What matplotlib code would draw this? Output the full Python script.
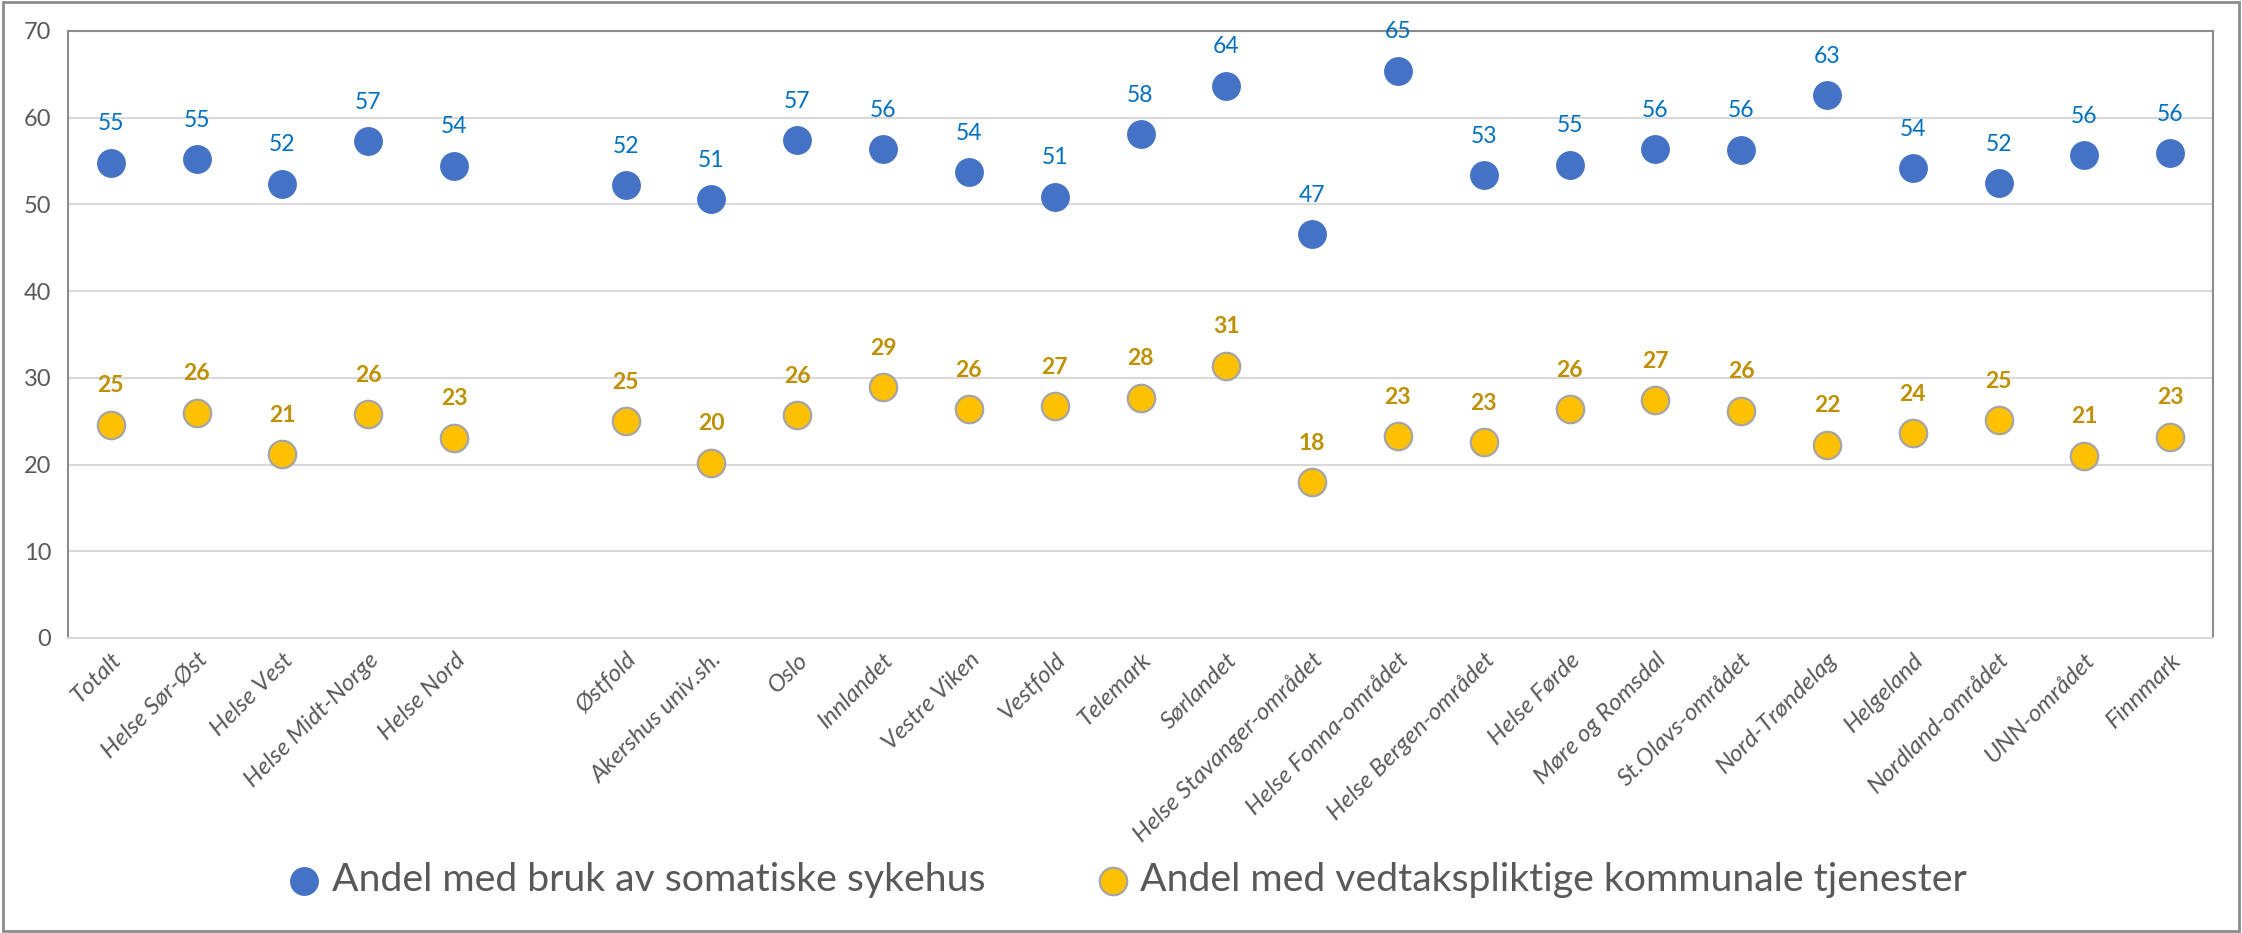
import numpy as np
import matplotlib
matplotlib.use("Agg")
import matplotlib.pyplot as plt
from matplotlib.patches import Rectangle

plt.rcParams["font.family"] = ["Lato", "DejaVu Sans"]

# ── data ─────────────────────────────────────────────────────────────────────
categories = [
    "Totalt", "Helse Sør-Øst", "Helse Vest", "Helse Midt-Norge", "Helse Nord", "",
    "Østfold", "Akershus univ.sh.", "Oslo", "Innlandet", "Vestre Viken", "Vestfold",
    "Telemark", "Sørlandet", "Helse Stavanger-området", "Helse Fonna-området",
    "Helse Bergen-området", "Helse Førde", "Møre og Romsdal", "St.Olavs-området",
    "Nord-Trøndelag", "Helgeland", "Nordland-området", "UNN-området", "Finnmark",
]
somatikk = [
    54.8, 55.2, 52.4, 57.3, 54.45, np.nan,
    52.2, 50.6, 57.4, 56.4, 53.7, 50.9, 58.1, 63.7, 46.6, 65.4,
    53.4, 54.6, 56.4, 56.3, 62.6, 54.2, 52.45, 55.7, 55.9,
]
kommunal = [
    24.6, 26.0, 21.2, 25.8, 23.1, np.nan,
    25.0, 20.2, 25.7, 28.9, 26.4, 26.7, 27.7, 31.4, 18.0, 23.3,
    22.6, 26.4, 27.4, 26.2, 22.3, 23.6, 25.1, 21.0, 23.2,
]
series_names = [
    "Andel med bruk av somatiske sykehus",
    "Andel med vedtakspliktige kommunale tjenester",
]
y_ticks = [0, 10, 20, 30, 40, 50, 60, 70]

BLUE, BLUE_TXT = "#4472C4", "#0070C0"
GOLD, GOLD_TXT = "#FFC000", "#BF9000"
GREY_TXT = "#595959"

fig = plt.figure(figsize=(22.42, 9.33), dpi=100)
ax = fig.add_axes([0.0303, 0.3162, 0.9568, 0.6506])

x = np.arange(len(categories))
s1 = ax.scatter(x, somatikk, s=390, color=BLUE, zorder=3, label=series_names[0])
s2 = ax.scatter(x, kommunal, s=390, color=GOLD, edgecolor="#A5A5A5", linewidth=1.6,
                zorder=3, label=series_names[1])

# datalabels over punktene
for xi, v in zip(x, somatikk):
    if not np.isnan(v):
        ax.annotate(f"{v:.0f}", (xi, v), xytext=(0, 28), textcoords="offset points",
                    ha="center", va="center", fontsize=16.5, color=BLUE_TXT)
for xi, v in zip(x, kommunal):
    if not np.isnan(v):
        ax.annotate(f"{v:.0f}", (xi, v), xytext=(0, 28), textcoords="offset points",
                    ha="center", va="center", fontsize=16.5, color=GOLD_TXT,
                    fontweight="bold")

ax.set_xlim(-0.5, len(categories) - 0.5)
ax.set_ylim(0, 70)
ax.set_yticks(y_ticks)
ax.set_xticks(x)
ax.set_xticklabels(categories, rotation=45, ha="right", rotation_mode="anchor",
                   fontsize=17.5, fontstyle="italic", color=GREY_TXT)
ax.tick_params(axis="x", length=0, pad=8)
ax.tick_params(axis="y", length=0, pad=12, labelsize=17, labelcolor=GREY_TXT)
ax.grid(axis="y", color="#D9D9D9", linewidth=1.5)
ax.set_axisbelow(True)
for side in ["left", "top", "right"]:
    ax.spines[side].set_color("#8C8C8C")
    ax.spines[side].set_linewidth(1.5)
ax.spines["bottom"].set_color("#D9D9D9")
ax.spines["bottom"].set_linewidth(1.5)

leg = fig.legend(handles=[s1, s2], loc="center", bbox_to_anchor=(0.5035, 0.057),
                 ncol=2, frameon=False, fontsize=28.3, labelcolor=GREY_TXT,
                 handlelength=0.7, handletextpad=0.35, columnspacing=2.9)

# ramme rundt hele figuren
fig.patches.append(Rectangle((0.0015, 0.002), 0.997, 0.996, transform=fig.transFigure,
                             fill=False, edgecolor="#8C8C8C", linewidth=2))

plt.savefig("out.png", dpi=100)
plt.close()
